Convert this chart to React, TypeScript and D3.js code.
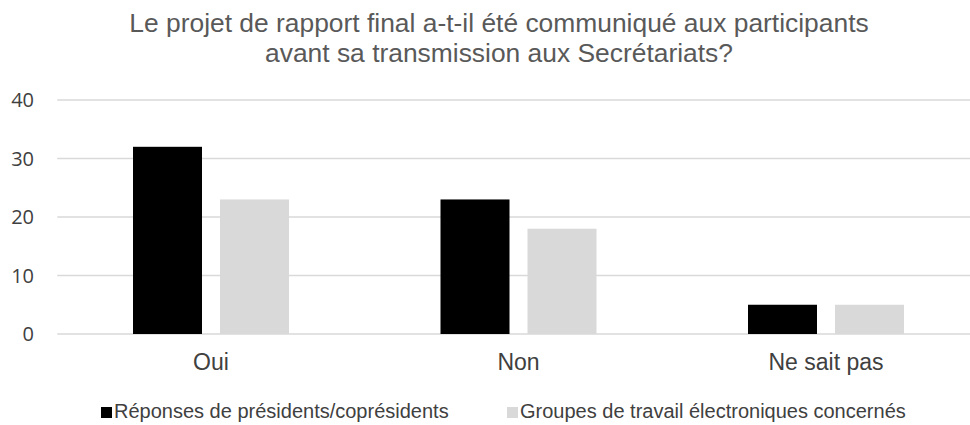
import React from "react";
import * as d3 from "d3";

const categories = ["Oui", "Non", "Ne sait pas"];
const seriesNames = ["Réponses de présidents/coprésidents", "Groupes de travail électroniques concernés"];
const presidents = [32, 23, 5];
const groupes = [23, 18, 5];
const yTicks = [0, 10, 20, 30, 40];
const titleLines = ["Le projet de rapport final a-t-il été communiqué aux participants", "avant sa transmission aux Secrétariats?"];
const colors = ["#000000", "#d9d9d9"];

export default function App() {
  const W = 970, H = 425;
  const left = 57.25, step = 307.5, top = 100, bottom = 334;
  const x0 = d3.scaleBand<string>().domain(categories).range([left, left + step * 3]).paddingInner(0).paddingOuter(0);
  const outer = (step - 156) / 2;
  const x1 = d3.scaleBand<number>().domain([0, 1]).range([outer, step - outer]).paddingInner(18 / 87);
  const y = d3.scaleLinear().domain([0, 40]).range([bottom, top]);
  const series = [presidents, groupes];
  const legendX = [101, 507];
  return (
    <svg width={W} height={H} style={{ position: "absolute", left: 0, top: 0, background: "#fff" }}>
      {titleLines.map((t, i) => (
        <text key={i} x={499} y={32 + i * 30} textAnchor="middle" fontFamily="Liberation Sans, Arial" fontSize={26.4} fill="#595959">{t}</text>
      ))}
      {yTicks.map((t) => (
        <g key={t}>
          <line x1={left} x2={W} y1={y(t)} y2={y(t)} stroke="#d9d9d9" strokeWidth={1.3} />
          <text x={34} y={y(t) + 7} textAnchor="end" fontFamily="Open Sans, Lato, sans-serif" fontSize={20} fill="#404040">{t}</text>
        </g>
      ))}
      {categories.map((c, ci) => (
        <g key={c} transform={`translate(${x0(c)},0)`}>
          {series.map((s, si) => (
            <rect key={si} x={x1(si)} y={y(s[ci])} width={x1.bandwidth()} height={y(0) - y(s[ci])} fill={colors[si]} />
          ))}
          <text x={x0.bandwidth() / 2} y={370} textAnchor="middle" fontFamily="Liberation Sans, Arial" fontSize={23} fill="#404040">{c}</text>
        </g>
      ))}
      {seriesNames.map((n, i) => {
        const lx = legendX[i];
        return (
          <g key={n}>
            <rect x={lx} y={407} width={11} height={11} fill={colors[i]} />
            <text x={lx + 13} y={418} fontFamily="Liberation Sans, Arial" fontSize={20} fill="#404040">{n}</text>
          </g>
        );
      })}
    </svg>
  );
}
